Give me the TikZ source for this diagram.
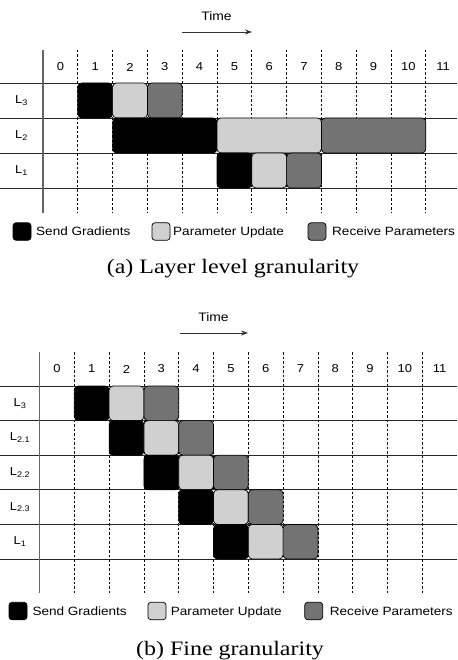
\documentclass[tikz,border=0pt]{standalone}
\usepackage{fontspec}
\setmainfont{Liberation Serif}
\setsansfont{Liberation Sans}
\usepackage{graphicx}
\usetikzlibrary{arrows.meta}
\definecolor{lightbar}{RGB}{208,208,208}
\definecolor{darkbar}{RGB}{115,115,115}
\newcommand{\hx}[1]{\scalebox{1.13}[1]{#1}}
\begin{document}
\begin{tikzpicture}[x=1pt,y=-1pt,
  bar/.style={draw=black, line width=0.7pt, rounded corners=4pt, inner sep=0pt, outer sep=0pt},
  sg/.style={bar, fill=black},
  pu/.style={bar, fill=lightbar},
  rp/.style={bar, fill=darkbar},
  legbox/.style={draw=black, line width=0.7pt, rounded corners=3pt, inner sep=0pt, minimum width=18pt, minimum height=17.5pt},
  rowline/.style={line width=0.8pt, draw=black!85},
  axisline/.style={line width=1.1pt, draw=black!60},
  tickline/.style={dash pattern=on 2.5pt off 2pt, line width=0.7pt, draw=black},
  numlbl/.style={font=\sffamily\fontsize{11.5}{12}\selectfont, inner sep=0pt},
  rowlbl/.style={font=\sffamily\fontsize{11.5}{12}\selectfont, inner sep=0pt},
  timelbl/.style={font=\sffamily\fontsize{12.3}{14}\selectfont, inner sep=0pt},
  leglbl/.style={font=\sffamily\fontsize{12}{14}\selectfont, inner sep=0pt, anchor=base west},
  caplbl/.style={font=\fontsize{20.5}{24}\selectfont, inner sep=0pt, anchor=base},
  timearrow/.style={line width=0.8pt, draw=black!80, -{Stealth[length=7pt,width=5pt]}}
]
\useasboundingbox (0,0) rectangle (457,660);

%% ================= (a) =================
\def\xa{43}\def\wa{34.8}
% time
\node[timelbl] (a-time) at (216.5,16) {\hx{Time}};
\coordinate (a-t1) at (182,32);
\coordinate (a-t2) at (252,32);
\draw[timearrow] (a-t1) -- (a-t2);
% dashed column lines
\foreach \k in {1,...,11}
  \draw[tickline] ({\xa+\k*\wa},50) -- ({\xa+\k*\wa},213);
% row lines
\foreach \yy in {83,118,153,188}
  \draw[rowline] (0,\yy) -- (457,\yy);
% numbers
\foreach \k in {0,...,11}
  \node[numlbl] (a-n\k) at ({\xa+(\k+0.5)*\wa},67) {\hx{\k}};
% row labels
\node[rowlbl] (a-l3) at (21.5,100.5) {\hx{L\textsubscript{3}}};
\node[rowlbl] (a-l2) at (21.5,135.5) {\hx{L\textsubscript{2}}};
\node[rowlbl] (a-l1) at (21.5,170.5) {\hx{L\textsubscript{1}}};
% bars L3
\node[sg, minimum width=\wa pt, minimum height=35pt] (a-l3-sg) at ({\xa+1.5*\wa},100.5) {};
\node[pu, minimum width=\wa pt, minimum height=35pt] (a-l3-pu) at ({\xa+2.5*\wa},100.5) {};
\node[rp, minimum width=\wa pt, minimum height=35pt] (a-l3-rp) at ({\xa+3.5*\wa},100.5) {};
% bars L2
\node[sg, minimum width=3*\wa pt, minimum height=35pt] (a-l2-sg) at ({\xa+3.5*\wa},135.5) {};
\node[pu, minimum width=3*\wa pt, minimum height=35pt] (a-l2-pu) at ({\xa+6.5*\wa},135.5) {};
\node[rp, minimum width=3*\wa pt, minimum height=35pt] (a-l2-rp) at ({\xa+9.5*\wa},135.5) {};
% bars L1
\node[sg, minimum width=\wa pt, minimum height=35pt] (a-l1-sg) at ({\xa+5.5*\wa},170.5) {};
\node[pu, minimum width=\wa pt, minimum height=35pt] (a-l1-pu) at ({\xa+6.5*\wa},170.5) {};
\node[rp, minimum width=\wa pt, minimum height=35pt] (a-l1-rp) at ({\xa+7.5*\wa},170.5) {};
% axis
\draw[axisline] (\xa,50) -- (\xa,213);
% legend
\node[legbox, fill=black] (a-leg1) at (22,231.5) {};
\node[leglbl] (a-leg1t) at (36,235.7) {\hx{Send Gradients}};
\node[legbox, fill=lightbar] (a-leg2) at (161,231.5) {};
\node[leglbl] (a-leg2t) at (173,235.7) {\hx{Parameter Update}};
\node[legbox, fill=darkbar] (a-leg3) at (317,231.5) {};
\node[leglbl] (a-leg3t) at (332,235.7) {\hx{Receive Parameters}};
% caption
\node[caplbl] (a-cap) at (233,273) {\scalebox{1.17}[1]{(a) Layer level granularity}};

%% ================= (b) =================
\def\xb{39.5}\def\wb{34.8}\def\hb{34.6}\def\yb{386}
\node[timelbl] (b-time) at (213.5,316.7) {\hx{Time}};
\coordinate (b-t1) at (180,333);
\coordinate (b-t2) at (248,333);
\draw[timearrow] (b-t1) -- (b-t2);
\foreach \k in {1,...,11}
  \draw[tickline] ({\xb+\k*\wb},352) -- ({\xb+\k*\wb},593);
\foreach \r in {0,...,5}
  \draw[rowline] (0,{\yb+\r*\hb}) -- (457,{\yb+\r*\hb});
\foreach \k in {0,...,11}
  \node[numlbl] (b-n\k) at ({\xb+(\k+0.5)*\wb},369) {\hx{\k}};
\foreach \r/\lab in {0/3,1/{2.1},2/{2.2},3/{2.3},4/1} {
  \node[rowlbl] (b-l\r) at (20,{\yb+(\r+0.5)*\hb}) {\hx{L\textsubscript{\lab}}};
  \node[sg, minimum width=\wb pt, minimum height=\hb pt] (b-r\r-sg) at ({\xb+(\r+1.5)*\wb},{\yb+(\r+0.5)*\hb}) {};
  \node[pu, minimum width=\wb pt, minimum height=\hb pt] (b-r\r-pu) at ({\xb+(\r+2.5)*\wb},{\yb+(\r+0.5)*\hb}) {};
  \node[rp, minimum width=\wb pt, minimum height=\hb pt] (b-r\r-rp) at ({\xb+(\r+3.5)*\wb},{\yb+(\r+0.5)*\hb}) {};
}
\draw[axisline] (\xb,352) -- (\xb,593);
\node[legbox, fill=black] (b-leg1) at (18,611) {};
\node[leglbl] (b-leg1t) at (32.3,615.7) {\hx{Send Gradients}};
\node[legbox, fill=lightbar] (b-leg2) at (157,611) {};
\node[leglbl] (b-leg2t) at (170.7,615.7) {\hx{Parameter Update}};
\node[legbox, fill=darkbar] (b-leg3) at (313.7,611) {};
\node[leglbl] (b-leg3t) at (329.7,615.7) {\hx{Receive Parameters}};
\node[caplbl] (b-cap) at (230,655) {\scalebox{1.17}[1]{(b) Fine granularity}};
\end{tikzpicture}
\end{document}
